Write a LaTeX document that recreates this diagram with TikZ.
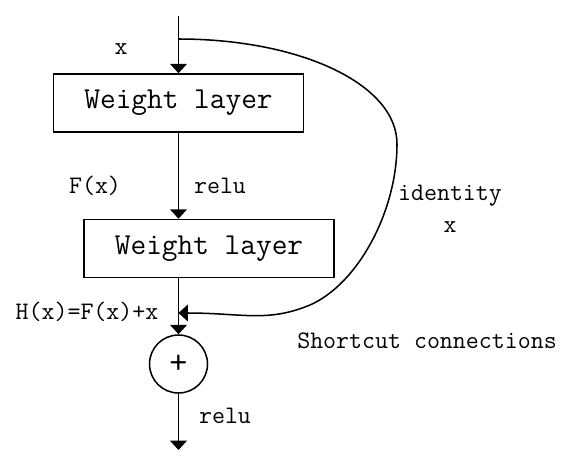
\documentclass[tikz,border=0pt]{standalone}
\usetikzlibrary{arrows.meta, positioning}

\begin{document}
\begin{tikzpicture}[
    x=0.03cm, y=0.03cm,
    line width=1.3pt,
    layer/.style={rectangle, draw, minimum width=7.5cm, minimum height=1.74cm, font=\fontsize{26}{30}\selectfont\ttfamily},
    sumop/.style={circle, draw, minimum size=1.74cm, inner sep=0pt, font=\fontsize{30}{34}\selectfont\ttfamily},
    lbl/.style={anchor=base, inner sep=0pt, font=\fontsize{21.5}{25}\selectfont\ttfamily},
    arrow/.style={-{Triangle[width=5mm, length=2.8mm]}}
  ]
    \useasboundingbox (0,0) rectangle (569,464);
    \coordinate (in) at (178.5,448);
    \coordinate (split) at (178.5,425);
    \node[layer] (w1) at (178.5,361) {Weight layer};
    \node[layer] (w2) at (209,215.5) {Weight layer};
    \node[sumop] (sum) at (178.5,100) {+};
    \coordinate (join) at (178.5,151);
    \coordinate (out) at (178.5,14);

    \draw[arrow] (in) -- (w1);
    \draw[arrow] (w1) -- (w1 |- w2.north);
    \draw[arrow] (w2.south -| sum) -- (sum);
    \draw[arrow] (sum) -- (out);
    % shortcut
    \draw[arrow] (split) .. controls (300,425) and (397,380) .. (397,320)
      .. controls (397,250) and (355,175) .. (305,157)
      .. controls (265,142) and (240,151) .. (join);

    \node[lbl] (xin) at (121,409) {x};
    \node[lbl] (fx) at (95,271) {F(x)};
    \node[lbl] (relua) at (220,271) {relu};
    \node[lbl] (ident) at (450,264) {identity};
    \node[lbl] (xid) at (450,232) {x};
    \node[lbl] (hx) at (87,145) {H(x)=F(x)+x};
    \node[lbl] (short) at (427,116) {Shortcut connections};
    \node[lbl] (relub) at (225,41) {relu};
\end{tikzpicture}
\end{document}
